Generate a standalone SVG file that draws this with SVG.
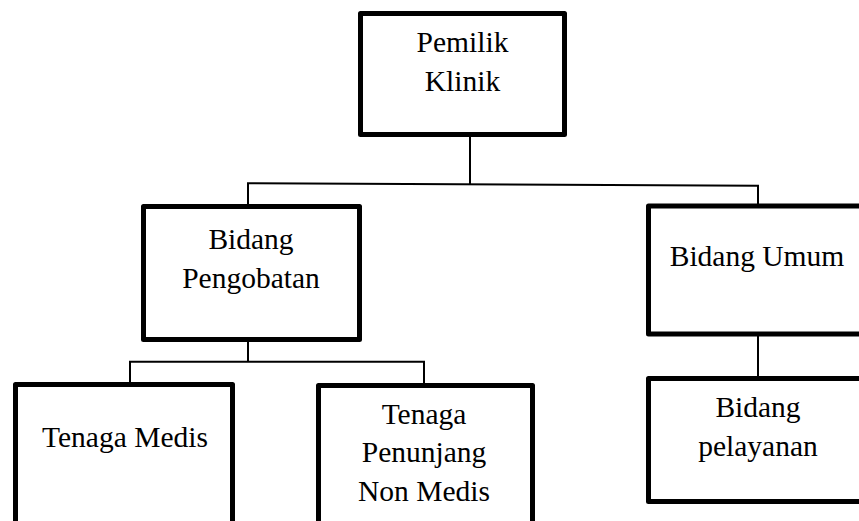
<svg xmlns="http://www.w3.org/2000/svg" width="859" height="521" viewBox="0 0 859 521">
<style>
.box{fill:#fff;stroke:#000;stroke-width:5;stroke-linejoin:round}
.c{fill:none;stroke:#000;stroke-width:2}
text{font-family:"Liberation Serif","Times New Roman",serif;font-size:29.5px;fill:#000;text-anchor:middle}
</style>
<rect width="859" height="521" fill="#fff"/>
<g id="connectors">
<line class="c" x1="470" y1="134.5" x2="470" y2="184.5"/>
<line class="c" x1="247" y1="183.3" x2="759" y2="185.7"/>
<line class="c" x1="248" y1="183.3" x2="248" y2="206.5"/>
<line class="c" x1="758" y1="185.7" x2="758" y2="206"/>
<line class="c" x1="248" y1="339.5" x2="248" y2="361.7"/>
<line class="c" x1="129" y1="361.7" x2="425" y2="361.7"/>
<line class="c" x1="130" y1="361.7" x2="130" y2="384.5"/>
<line class="c" x1="424" y1="361.7" x2="424" y2="385.5"/>
<line class="c" x1="758" y1="334" x2="758" y2="378.5"/>
</g>
<g id="pemilik">
<rect class="box" x="360.5" y="13.5" width="204" height="121"/>
<text x="462.5" y="52">Pemilik</text>
<text x="462.5" y="91">Klinik</text>
</g>
<g id="pengobatan">
<rect class="box" x="143.5" y="206.5" width="216" height="133"/>
<text x="251" y="248.5">Bidang</text>
<text x="251" y="288">Pengobatan</text>
</g>
<g id="umum">
<rect class="box" x="648.5" y="206" width="260" height="128"/>
<text x="757" y="266">Bidang Umum</text>
</g>
<g id="medis">
<rect class="box" x="15.5" y="384.5" width="217" height="160"/>
<text x="125" y="447">Tenaga Medis</text>
</g>
<g id="nonmedis">
<rect class="box" x="318.5" y="385.5" width="214" height="160"/>
<text x="424" y="423.5">Tenaga</text>
<text x="424" y="462">Penunjang</text>
<text x="424" y="500.5">Non Medis</text>
</g>
<g id="pelayanan">
<rect class="box" x="648.5" y="378.5" width="260" height="123"/>
<text x="758" y="417">Bidang</text>
<text x="758" y="456">pelayanan</text>
</g>
</svg>
